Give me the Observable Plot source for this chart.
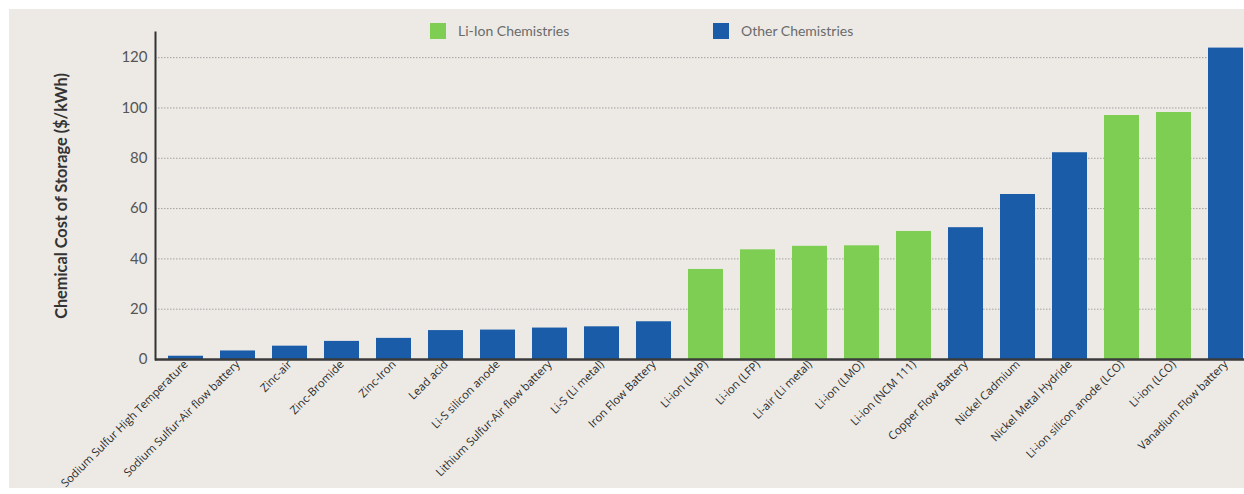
<!DOCTYPE html>
<html>
<head>
<meta charset="utf-8">
<script src="https://cdn.jsdelivr.net/npm/d3@7"></script>
<script src="https://cdn.jsdelivr.net/npm/@observablehq/plot@0.6"></script>
<style>
  html, body { margin: 0; padding: 0; background: #ffffff; }
  #wrap { position: relative; width: 1244px; height: 494px; overflow: hidden; }
  #panel { position: absolute; left: 9px; top: 9px; width: 1235px; height: 479px; background: #EDEAE6; }
  #chart { position: absolute; left: 0; top: 0; width: 1257px; }
  #chart svg { max-width: none !important; width: 1257px; height: 494px; }
  #legend { position: absolute; left: 0; top: 0; width: 1244px; height: 60px; font-family: Lato, "Open Sans", sans-serif; font-size: 14px; color: #6a6a6a; }
  .item { position: absolute; top: 22px; display: flex; align-items: center; }
  .sw { width: 16px; height: 16px; margin-right: 12px; }
</style>
</head>
<body>
<div id="wrap">
  <div id="panel"></div>
  <div id="chart"></div>
  <div id="legend"></div>
</div>
<script>
const categories = [
  "Sodium Sulfur High Temperature",
  "Sodium Sulfur-Air flow battery",
  "Zinc-air",
  "Zinc-Bromide",
  "Zinc-Iron",
  "Lead acid",
  "Li-S silicon anode",
  "Lithium Sulfur-Air flow battery",
  "Li-S (Li metal)",
  "Iron Flow Battery",
  "Li-ion (LMP)",
  "Li-ion (LFP)",
  "Li-air (Li metal)",
  "Li-ion (LMO)",
  "Li-ion (NCM 111)",
  "Copper Flow Battery",
  "Nickel Cadmium",
  "Nickel Metal Hydride",
  "Li-ion silicon anode (LCO)",
  "Li-ion (LCO)",
  "Vanadium Flow battery"
];
const costs = [1.3, 3.4, 5.3, 7.2, 8.4, 11.5, 11.7, 12.5, 13.0, 15.0, 35.8, 43.6, 45.0, 45.2, 50.9, 52.4, 65.6, 82.2, 97.0, 98.2, 123.8];
const groups = ["Other","Other","Other","Other","Other","Other","Other","Other","Other","Other",
  "Li-Ion","Li-Ion","Li-Ion","Li-Ion","Li-Ion","Other","Other","Other","Li-Ion","Li-Ion","Other"];
const legendLabels = ["Li-Ion Chemistries", "Other Chemistries"];
const groupKeys = ["Li-Ion", "Other"];
const groupColors = ["#7DCE52", "#1B5CA8"];
const yTicks = [0, 20, 40, 60, 80, 100, 120];
const yLabel = "Chemical Cost of Storage ($/kWh)";

const data = categories.map((c, i) => ({name: c, value: costs[i], group: groups[i]}));

const chart = Plot.plot({
  width: 1257,
  height: 494,
  marginTop: 32,
  marginBottom: 135,
  marginLeft: 155,
  marginRight: 0,
  style: { background: "transparent", fontFamily: "Lato, 'Open Sans', sans-serif", maxWidth: "none" },
  x: { domain: categories, paddingInner: 0.32, paddingOuter: 0.175, label: null },
  y: { domain: [0, 130], label: null },
  color: { domain: groupKeys, range: groupColors },
  marks: [
    Plot.gridY(yTicks.slice(1), { stroke: "#9a9a9a", strokeOpacity: 0.9, strokeDasharray: "1.5,1.5", strokeWidth: 1 }),
    Plot.barY(data, { x: "name", y: "value", fill: "group" }),
    Plot.ruleY([0], { stroke: "#3a3a3a", strokeWidth: 2.5 }),
    Plot.frame({ anchor: "left", stroke: "#333", strokeWidth: 2 }),
    Plot.axisY({ ticks: yTicks, tickSize: 0, tickPadding: 8, fontSize: 15, color: "#555", label: null }),
    Plot.axisX({ tickSize: 0, tickRotate: -45, tickPadding: 3, fontSize: 11.3, color: "#2a2a2a", label: null,
      fontFamily: "'Open Sans', Lato, sans-serif" }),
    Plot.text([yLabel], { text: d => d, frameAnchor: "left", textAnchor: "middle", rotate: -90, dx: -94, fontSize: 16.3,
      fontWeight: "bold", fill: "#333" })
  ]
});
document.getElementById("chart").appendChild(chart);

const legend = document.getElementById("legend");
const lefts = [430, 713];
legendLabels.forEach((lab, i) => {
  const it = document.createElement("div");
  it.className = "item";
  it.style.left = lefts[i] + "px";
  const sw = document.createElement("div");
  sw.className = "sw";
  sw.style.background = groupColors[i];
  const t = document.createElement("span");
  t.textContent = lab;
  it.appendChild(sw);
  it.appendChild(t);
  legend.appendChild(it);
});
</script>
</body>
</html>
